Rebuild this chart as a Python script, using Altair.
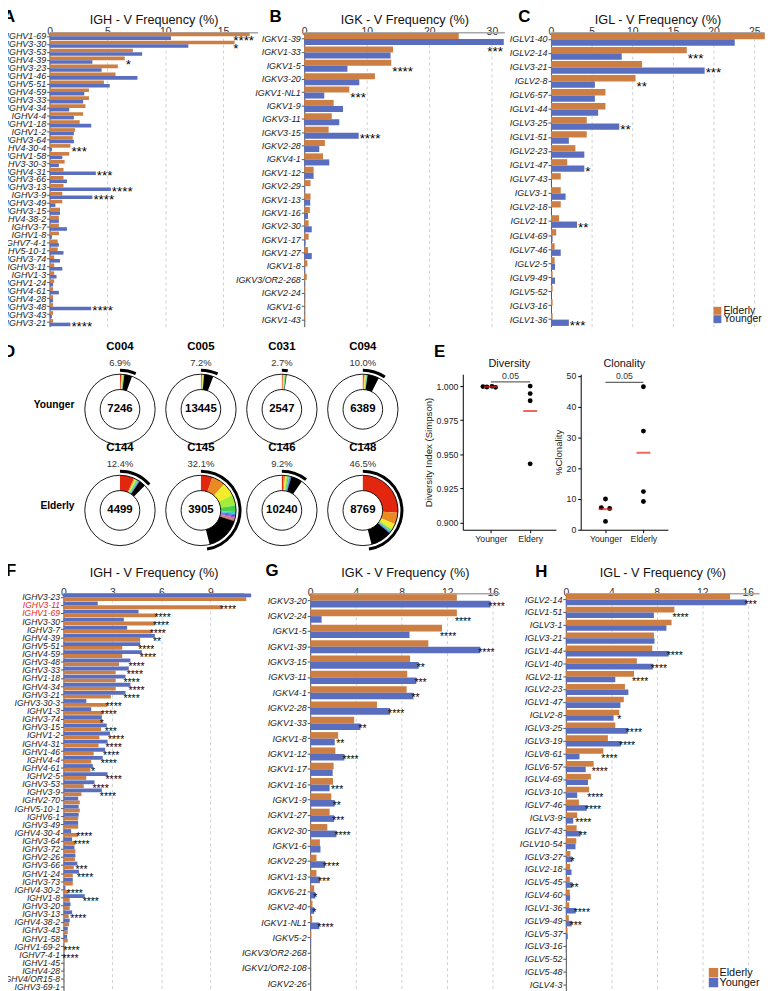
import json
import math
import pandas as pd
import altair as alt

FONT = "Liberation Sans"
ORANGE = "#CD7E42"
BLUE = "#5A6EBF"
RED = "#E8251B"
GROUPS = ["Elderly", "Younger"]

# ---------------- Panel A: IGH (elderly vs younger) ----------------
A_genes = ["IGHV1-69", "IGHV3-30", "IGHV3-53", "IGHV4-39", "IGHV3-23", "IGHV1-46", "IGHV5-51",
           "IGHV4-59", "IGHV3-33", "IGHV4-34", "IGHV4-4", "IGHV1-18", "IGHV1-2", "IGHV3-64",
           "IGHV4-30-4", "IGHV1-58", "IGHV3-30-3", "IGHV4-31", "IGHV3-66", "IGHV3-13", "IGHV3-9",
           "IGHV3-49", "IGHV3-15", "IGHV4-38-2", "IGHV3-7", "IGHV1-8", "IGHV7-4-1", "IGHV5-10-1",
           "IGHV3-74", "IGHV3-11", "IGHV1-3", "IGHV1-24", "IGHV4-61", "IGHV4-28", "IGHV3-48",
           "IGHV3-43", "IGHV3-21"]
A_eld = [17.3, 16.0, 7.2, 6.5, 5.9, 5.7, 4.7, 3.4, 3.4, 3.1, 2.9, 2.6, 2.2, 2.0, 1.8, 1.7, 1.3, 1.2,
         1.2, 1.2, 1.1, 1.1, 0.9, 0.8, 0.8, 0.8, 0.7, 0.7, 0.4, 0.4, 0.4, 0.4, 0.3, 0.3, 0.3, 0.3, 0.3]
A_you = [10.5, 12.0, 8.0, 3.7, 4.5, 7.6, 5.2, 3.0, 2.9, 1.7, 2.1, 3.6, 2.1, 2.1, 0.2, 1.1, 0.8, 4.0,
         1.5, 5.3, 3.7, 0.5, 0.9, 0.8, 1.5, 0.2, 0.8, 1.2, 0.9, 1.1, 0.6, 0.3, 0.8, 0.3, 3.6, 0.2, 1.8]
A_sig = ["****", "*", "", "*", "", "", "", "", "", "", "", "", "", "", "***", "", "", "***", "",
         "****", "****", "", "", "", "", "", "", "", "", "", "", "", "", "", "****", "", "****"]

# ---------------- Panel B: IGK ----------------
B_genes = ["IGKV1-39", "IGKV1-33", "IGKV1-5", "IGKV3-20", "IGKV1-NL1", "IGKV1-9", "IGKV3-11",
           "IGKV3-15", "IGKV2-28", "IGKV4-1", "IGKV1-12", "IGKV2-29", "IGKV1-13", "IGKV1-16",
           "IGKV2-30", "IGKV1-17", "IGKV1-27", "IGKV1-8", "IGKV3/OR2-268", "IGKV2-24", "IGKV1-6",
           "IGKV1-43"]
B_eld = [24.7, 14.2, 13.9, 11.3, 7.2, 4.7, 4.4, 3.9, 3.3, 3.0, 1.5, 1.0, 1.0, 0.9, 0.7, 0.7, 0.6,
         0.5, 0.4, 0.1, 0.1, 0.1]
B_you = [31.9, 13.8, 6.9, 8.8, 3.2, 6.2, 5.6, 8.7, 2.4, 4.0, 1.5, 0.1, 0.95, 0.6, 1.2, 0.2, 1.2,
         0.1, 0.0, 0.0, 0.0, 0.0]
B_sig = ["***", "", "****", "", "***", "", "", "****", "", "", "", "", "", "", "", "", "", "", "",
         "", "", ""]

# ---------------- Panel C: IGL ----------------
C_genes = ["IGLV1-40", "IGLV2-14", "IGLV3-21", "IGLV2-8", "IGLV6-57", "IGLV1-44", "IGLV3-25",
           "IGLV1-51", "IGLV2-23", "IGLV1-47", "IGLV7-43", "IGLV3-1", "IGLV2-18", "IGLV2-11",
           "IGLV4-69", "IGLV7-46", "IGLV2-5", "IGLV9-49", "IGLV5-52", "IGLV3-16", "IGLV1-36"]
C_eld = [26.3, 16.7, 11.2, 10.4, 6.7, 6.7, 4.4, 4.4, 3.0, 2.0, 1.2, 1.2, 1.2, 1.0, 0.65, 0.45, 0.45,
         0.2, 0.2, 0.2, 0.2]
C_you = [22.6, 8.7, 18.9, 5.4, 5.4, 5.8, 8.4, 2.2, 4.1, 4.1, 0.0, 1.8, 0.0, 3.2, 0.2, 1.2, 0.5, 0.5,
         0.0, 0.0, 2.2]
C_sig = ["", "***", "***", "**", "", "", "**", "", "", "*", "", "", "", "**", "", "", "", "", "", "",
         "***"]

# ---------------- Panel D: clonal donuts ----------------
D_samples = ["C004", "C005", "C031", "C094", "C144", "C145", "C146", "C148"]
D_count = [7246, 13445, 2547, 6389, 4499, 3905, 10240, 8769]
D_pct = ["6.9%", "7.2%", "2.7%", "10.0%", "12.4%", "32.1%", "9.2%", "46.5%"]
D_col = [0, 1, 2, 3, 0, 1, 2, 3]
D_row = [0, 0, 0, 0, 1, 1, 1, 1]
D_row_labels = ["Younger", "Elderly"]
D_clones = {  # % of the circle taken by each coloured expanded clone
    "C004": [0.5, 0.4, 0.3, 0.3, 0.3, 0.2],
    "C005": [0.4, 0.3, 0.3, 0.3, 0.2],
    "C031": [0.4, 0.4, 0.3, 0.3, 0.3, 0.2],
    "C094": [0.5, 0.4, 0.4, 0.3, 0.3, 0.3],
    "C144": [6.5, 0.6, 0.5, 0.5, 0.4, 0.4, 0.3, 0.3],
    "C145": [5.3, 6.2, 6.3, 5.0, 2.9, 0.8, 0.7, 0.6, 0.5, 0.5, 0.4, 0.4, 0.4],
    "C146": [0.8, 0.7, 0.6, 0.6, 0.5, 0.4, 0.4, 0.4],
    "C148": [26.0, 5.4, 2.6, 0.6, 0.5, 0.4, 0.4, 0.3],
}
D_other = [3.6, 4.2, 0.3, 5.3, 3.0, 16.0, 5.2, 9.8]   # black slice
D_arc = [6.6, 7.0, 2.4, 9.5, 13.5, 47.5, 10.6, 47.5]   # outer black arc
CLONE_COLORS = ["#E3260E", "#EA8A22", "#F4EC2A", "#A3EC3A", "#45D14C", "#3CCFCB", "#3C8BE6",
                "#5747D6", "#A63ED6", "#E451A8", "#99653A", "#8E8E8E"]

# ---------------- Panel E: diversity / clonality ----------------
E_div_young = [0.9996, 0.9993, 0.9998, 0.9991]
E_div_eld = [1.0, 0.9945, 0.9893, 0.9431]
E_div_jitter = [-0.2, -0.1, 0.03, 0.12]
E_clon_young = [10.0, 7.2, 6.9, 2.7]
E_clon_eld = [46.5, 32.1, 12.4, 9.2]
E_clon_jitter = [0.0, -0.11, 0.11, 0.0]
E_p = "0.05"

# ---------------- Panel F: IGH ----------------
F_genes = ["IGHV3-23", "IGHV3-11", "IGHV1-69", "IGHV3-30", "IGHV3-7", "IGHV4-39", "IGHV5-51",
           "IGHV4-59", "IGHV3-48", "IGHV3-33", "IGHV1-18", "IGHV4-34", "IGHV3-21", "IGHV3-30-3",
           "IGHV1-3", "IGHV3-74", "IGHV3-15", "IGHV1-2", "IGHV4-31", "IGHV1-46", "IGHV4-4",
           "IGHV4-61", "IGHV2-5", "IGHV3-53", "IGHV3-9", "IGHV2-70", "IGHV5-10-1", "IGHV6-1",
           "IGHV3-49", "IGHV4-30-4", "IGHV3-64", "IGHV3-72", "IGHV2-26", "IGHV3-66", "IGHV1-24",
           "IGHV3-73", "IGHV4-30-2", "IGHV1-8", "IGHV3-20", "IGHV3-13", "IGHV4-38-2", "IGHV3-43",
           "IGHV1-58", "IGHV1-69-2", "IGHV7-4-1", "IGHV1-45", "IGHV4-28", "IGHV4/OR15-8",
           "IGHV3-69-1"]
F_you = [11.5, 2.1, 4.6, 3.7, 3.9, 5.6, 4.7, 4.8, 4.1, 4.0, 3.8, 4.1, 3.8, 1.4, 1.7, 2.35, 2.65,
         2.85, 2.7, 2.55, 2.4, 1.8, 2.7, 1.9, 2.35, 0.9, 0.93, 0.93, 0.9, 0.47, 0.53, 0.67, 0.73,
         0.85, 0.95, 0.57, 0.12, 1.3, 0.43, 0.53, 0.38, 0.26, 0.22, 0.02, 0.0, 0.0, 0.02, 0.0, 0.0]
F_eld = [11.2, 9.7, 5.7, 5.6, 5.4, 4.7, 3.6, 3.6, 3.4, 3.2, 3.2, 3.2, 2.9, 2.7, 2.4, 2.35, 2.3, 2.2,
         2.15, 1.85, 1.7, 1.65, 1.4, 1.24, 1.1, 1.0, 1.0, 0.9, 0.9, 0.9, 0.73, 0.73, 0.7, 0.63,
         0.57, 0.57, 0.32, 0.38, 0.38, 0.32, 0.34, 0.26, 0.26, 0.12, 0.05, 0.02, 0.0, 0.0, 0.0]
F_sig = ["", "****", "****", "****", "****", "**", "****", "****", "****", "****", "****", "****",
         "****", "****", "****", "*", "***", "****", "****", "****", "****", "*", "****", "****",
         "****", "", "", "", "", "****", "****", "", "", "***", "****", "", "****", "****", "",
         "****", "", "", "", "****", "****", "", "", "", ""]
F_red = ["IGHV3-11", "IGHV1-69"]

# ---------------- Panel G: IGK ----------------
G_genes = ["IGKV3-20", "IGKV2-24", "IGKV1-5", "IGKV1-39", "IGKV3-15", "IGKV3-11", "IGKV4-1",
           "IGKV2-28", "IGKV1-33", "IGKV1-8", "IGKV1-12", "IGKV1-17", "IGKV1-16", "IGKV1-9",
           "IGKV1-27", "IGKV2-30", "IGKV1-6", "IGKV2-29", "IGKV1-13", "IGKV6-21", "IGKV2-40",
           "IGKV1-NL1", "IGKV5-2", "IGKV3/OR2-268", "IGKV1/OR2-108", "IGKV2-26"]
G_eld = [12.85, 12.85, 11.55, 10.35, 8.75, 8.5, 8.45, 5.85, 3.85, 2.45, 2.2, 2.05, 2.0, 1.85, 1.7,
         1.5, 0.85, 0.55, 0.55, 0.35, 0.2, 0.17, 0.08, 0.0, 0.0, 0.0]
G_you = [15.8, 1.0, 8.7, 14.9, 9.5, 9.3, 9.05, 7.0, 4.4, 2.15, 3.0, 1.97, 1.7, 2.15, 2.1, 2.3, 0.9,
         1.3, 0.85, 0.45, 0.35, 0.8, 0.05, 0.0, 0.0, 0.0]
G_sig = ["****", "****", "****", "****", "**", "***", "**", "****", "**", "**", "****", "", "***",
         "**", "***", "****", "", "****", "***", "*", "*", "****", "", "", "", ""]

# ---------------- Panel H: IGL ----------------
H_genes = ["IGLV2-14", "IGLV1-51", "IGLV3-1", "IGLV3-21", "IGLV1-44", "IGLV1-40", "IGLV2-11",
           "IGLV2-23", "IGLV1-47", "IGLV2-8", "IGLV3-25", "IGLV3-19", "IGLV8-61", "IGLV6-57",
           "IGLV4-69", "IGLV3-10", "IGLV7-46", "IGLV3-9", "IGLV7-43", "IGLV10-54", "IGLV3-27",
           "IGLV2-18", "IGLV5-45", "IGLV4-60", "IGLV1-36", "IGLV9-49", "IGLV5-37", "IGLV3-16",
           "IGLV5-52", "IGLV5-48", "IGLV4-3"]
H_eld = [14.45, 9.55, 9.3, 7.75, 7.6, 6.25, 6.0, 5.2, 5.1, 4.7, 4.35, 3.7, 3.3, 2.45, 2.2, 2.05,
         1.15, 1.0, 0.95, 0.92, 0.4, 0.38, 0.35, 0.35, 0.3, 0.26, 0.15, 0.0, 0.0, 0.0, 0.0]
H_you = [15.9, 7.75, 8.85, 7.8, 9.05, 7.65, 4.35, 5.5, 4.8, 4.2, 5.45, 4.85, 1.2, 1.75, 1.95, 1.0,
         1.85, 0.65, 1.3, 0.85, 0.58, 0.5, 0.58, 0.38, 0.87, 0.52, 0.17, 0.03, 0.0, 0.0, 0.0]
H_sig = ["***", "****", "", "", "****", "****", "****", "", "", "*", "****", "****", "****",
         "****", "", "****", "****", "****", "**", "", "*", "", "**", "", "****", "***", "", "",
         "", "", ""]

NO_FRAME = alt.ViewBackground(strokeOpacity=0, strokeWidth=0)


# ================= helpers =================
def letter_layer(letter, x, y):
    return alt.Chart(pd.DataFrame({"t": [letter]})).mark_text(
        font=FONT, fontSize=17, fontWeight="bold", align="left", baseline="middle", color="black"
    ).encode(x=alt.value(x), y=alt.value(y), text="t:N")


def spacer(w):
    return alt.Chart(pd.DataFrame({"t": [""]})).mark_text().encode(text="t:N").properties(
        width=w, height=1, view=NO_FRAME)


def legend_layers(x0, y0, fs, sq, step):
    out = []
    for i, (g, c) in enumerate(zip(GROUPS, [ORANGE, BLUE])):
        df = pd.DataFrame({"t": [g]})
        out.append(alt.Chart(df).mark_square(size=sq, color=c, opacity=1).encode(
            x=alt.value(x0), y=alt.value(y0 + i * step)))
        out.append(alt.Chart(df).mark_text(
            align="left", baseline="middle", fontSize=fs, font=FONT, color="#111"
        ).encode(x=alt.value(x0 + 6), y=alt.value(y0 + i * step), text="t:N"))
    return out


def bar_panel(genes, eld, you, sig, title, width, height, xmax, ticks, top_group, pad,
              star_fs, star_dx, star_dy, cap, letter, lx, ly, legend=None, red=None,
              title_pad=0, label_pad=-4.5, label_fs=9):
    order = [top_group] + [g for g in GROUPS if g != top_group]
    lower = order[1]
    bars_df = pd.DataFrame({
        "gene": [g for g in genes for _ in (0, 1)],
        "group": ["Elderly", "Younger"] * len(genes),
        "value": [v for pair in zip(eld, you) for v in pair],
    })
    star_rows = []
    for i, (g, e, y, s) in enumerate(zip(genes, eld, you, sig)):
        if not s:
            continue
        xp = max(e, y)
        if cap is not None:
            xp = min(xp, cap)
        lower_val = e if lower == "Elderly" else y
        if lower_val > xp and i + 1 < len(genes):
            # no room beside the lower bar: the marker sits just below, in the next row
            star_rows.append({"gene": genes[i + 1], "group": order[0], "sig": s, "xpos": xp})
        else:
            star_rows.append({"gene": g, "group": lower, "sig": s, "xpos": xp})
    stars_df = pd.DataFrame(star_rows)

    if red:
        lab_color = {"expr": "indexof(%s, datum.value) >= 0 ? '%s' : '#1a1a1a'"
                             % (json.dumps(red), RED)}
    else:
        lab_color = "#1a1a1a"
    y_axis = alt.Axis(title=None, labelFont=FONT, labelFontStyle="italic", labelFontSize=label_fs,
                      labelColor=lab_color, labelPadding=1, tickSize=3, tickColor="#555",
                      domainColor="#555", grid=False, labelLimit=300)
    x_axis = alt.Axis(orient="top", values=ticks, title=title, titleFont=FONT, titleFontSize=12.8,
                      titleFontWeight="normal", titleColor="#111", titlePadding=title_pad,
                      labelFont=FONT, labelFontSize=10.5, labelColor="#333",
                      labelPadding=label_pad, labelFlush=False, ticks=False, tickSize=0,
                      domainColor="#a8a8a8", domainWidth=1.5, grid=True, gridDash=[3, 3],
                      gridColor="#c4c4c4", gridWidth=0.8)
    x_scale = alt.Scale(domain=[0, xmax], nice=False, zero=True)
    y_scale = alt.Scale(domain=genes, paddingInner=pad, paddingOuter=pad / 2)
    off_scale = alt.Scale(domain=order, paddingInner=0, paddingOuter=0)

    bars = alt.Chart(bars_df).mark_bar().encode(
        x=alt.X("value:Q", scale=x_scale, axis=x_axis),
        y=alt.Y("gene:N", scale=y_scale, axis=y_axis),
        yOffset=alt.YOffset("group:N", scale=off_scale),
        color=alt.Color("group:N", scale=alt.Scale(domain=GROUPS, range=[ORANGE, BLUE]),
                        legend=None),
    )
    stars = alt.Chart(stars_df).mark_text(
        align="left", baseline="middle", dx=star_dx, dy=star_dy, fontSize=star_fs, font=FONT,
        color="black"
    ).encode(
        x=alt.X("xpos:Q", scale=x_scale, axis=x_axis),
        y=alt.Y("gene:N", scale=y_scale, axis=y_axis),
        yOffset=alt.YOffset("group:N", scale=off_scale),
        text="sig:N",
    )
    layers = [bars, stars, letter_layer(letter, lx, ly)]
    if legend:
        layers += legend_layers(*legend)
    return alt.layer(*layers).properties(width=width, height=height, view=NO_FRAME)


def donut_panel(width, height, first_cx, first_cy):
    col_px, row_px = 81.7, 102.0
    xs = alt.Scale(domain=[-first_cx / col_px, (width - first_cx) / col_px], nice=False, zero=False)
    ys = alt.Scale(domain=[-first_cy / row_px, (height - first_cy) / row_px], nice=False,
                   zero=False, reverse=True)
    ts = alt.Scale(domain=[0, 100], range=[0, 2 * math.pi])
    X = alt.X("col:Q", scale=xs, axis=None)
    Y = alt.Y("row:Q", scale=ys, axis=None)

    srows, arows = [], []
    for i, s in enumerate(D_samples):
        start = 0.0
        for k, v in enumerate(D_clones[s]):
            srows.append({"col": D_col[i], "row": D_row[i], "t0": start, "t1": start + v,
                          "c": CLONE_COLORS[k % len(CLONE_COLORS)]})
            start += v
        srows.append({"col": D_col[i], "row": D_row[i], "t0": start, "t1": start + D_other[i],
                      "c": "#000000"})
        arows.append({"col": D_col[i], "row": D_row[i], "a0": 0.0, "a1": D_arc[i]})
    slices = pd.DataFrame(srows)
    arcs = pd.DataFrame(arows)
    info = pd.DataFrame({"col": D_col, "row": D_row, "s": D_samples,
                         "n": [str(v) for v in D_count], "p": D_pct})
    rlab = pd.DataFrame({"row": [0, 1], "t": D_row_labels})

    seg = alt.Chart(slices).mark_arc(radius=35.5, radius2=20).encode(
        x=X, y=Y, theta=alt.Theta("t0:Q", scale=ts, stack=None), theta2="t1:Q",
        color=alt.Color("c:N", scale=None))
    ring = alt.Chart(info).mark_arc(
        radius=35.5, radius2=20, theta=0, theta2=2 * math.pi, fillOpacity=0,
        stroke="black", strokeWidth=0.9).encode(x=X, y=Y)
    outer = alt.Chart(arcs).mark_arc(radius=41, radius2=38, color="black").encode(
        x=X, y=Y, theta=alt.Theta("a0:Q", scale=ts, stack=None), theta2="a1:Q")
    nums = alt.Chart(info).mark_text(font=FONT, fontSize=11.5, fontWeight="bold",
                                     color="black").encode(x=X, y=Y, text="n:N")
    heads = alt.Chart(info).mark_text(font=FONT, fontSize=11.5, fontWeight="bold", dy=-63,
                                      color="black").encode(x=X, y=Y, text="s:N")
    pcts = alt.Chart(info).mark_text(font=FONT, fontSize=9.5, dy=-47, color="#333").encode(
        x=X, y=Y, text="p:N")
    rows = alt.Chart(rlab).mark_text(font=FONT, fontSize=10.3, fontWeight="bold", align="right",
                                     dy=-4, color="black").encode(
        x=alt.value(first_cx - 46), y=Y, text="t:N")
    return alt.layer(seg, ring, outer, nums, heads, pcts, rows,
                     letter_layer("D", 7, -22),
                     letter_layer("E", width - 4, -22)).properties(
        width=width, height=height, view=NO_FRAME)


def dot_panel(young, eld, jitter, ydom, ticks, fmt, ytitle, title, xlabels, xdom, width, height,
              bracket_y):
    pts = pd.DataFrame({"x": list(jitter) + [1.0] * len(eld), "v": list(young) + list(eld)})
    grp = pd.DataFrame({"x": [0.0] * len(young) + [1.0] * len(eld), "v": list(young) + list(eld)})
    means = grp.groupby("x", as_index=False)["v"].mean()
    br = pd.DataFrame({"x0": [0.0], "x1": [1.0], "xm": [0.5], "y": [bracket_y], "t": [E_p]})

    xs = alt.Scale(domain=xdom, nice=False, zero=False)
    ys = alt.Scale(domain=ydom, nice=False, zero=False)
    x_axis = alt.Axis(values=[0, 1], title=None, grid=False,
                      labelExpr="datum.value == 0 ? '%s' : '%s'" % xlabels,
                      labelFont=FONT, labelFontSize=8.8, labelColor="#222", labelPadding=2,
                      domainColor="black", tickColor="black", tickSize=3)
    y_axis = alt.Axis(values=ticks, format=fmt, title=ytitle, grid=False, labelFont=FONT,
                      labelFontSize=8.8, labelColor="#222", titleFont=FONT, titleFontSize=9.7,
                      titleFontWeight="normal", titleColor="#222", titlePadding=3,
                      domainColor="black", tickColor="black", tickSize=3)
    X = alt.X("x:Q", scale=xs, axis=x_axis)
    Y = alt.Y("v:Q", scale=ys, axis=y_axis)
    dots = alt.Chart(pts).mark_circle(size=24, color="black", opacity=1).encode(x=X, y=Y)
    mean_ticks = alt.Chart(means).mark_tick(orient="horizontal", size=14, thickness=2,
                                            color=RED).encode(x=X, y=Y)
    rule = alt.Chart(br).mark_rule(color="#666", strokeWidth=1.2).encode(
        x=alt.X("x0:Q", scale=xs, axis=x_axis), x2="x1:Q", y=alt.Y("y:Q", scale=ys, axis=y_axis))
    ptxt = alt.Chart(br).mark_text(font=FONT, fontSize=8.8, baseline="bottom", dy=-1,
                                   color="#333").encode(
        x=alt.X("xm:Q", scale=xs, axis=x_axis), y=alt.Y("y:Q", scale=ys, axis=y_axis), text="t:N")
    return alt.layer(dots, mean_ticks, rule, ptxt).properties(
        width=width, height=height, view=NO_FRAME,
        title=alt.Title(title, font=FONT, fontSize=11, fontWeight="normal", color="#111",
                        offset=3))


# ================= panels =================
A = bar_panel(A_genes, A_eld, A_you, A_sig, "IGH - V Frequency (%)", 210, 297, 18.0,
              [0, 5, 10, 15], "Elderly", 0.1, 13.5, 1, 3, 15.8, "A", -47, -15)
B = bar_panel(B_genes, B_eld, B_you, B_sig, "IGK - V Frequency (%)", 202, 297, 32.0,
              [0, 10, 20, 30], "Elderly", 0.1, 13.5, 1, 3, 29.1, "B", -35, -15)
C = bar_panel(C_genes, C_eld, C_you, C_sig, "IGL - V Frequency (%)", 215, 297, 26.2,
              [0, 5, 10, 15, 20, 25], "Elderly", 0.1, 13.5, 1, 3, None, "C", -33, -15,
              legend=(168, 281, 10.5, 64, 8.5))

D = donut_panel(446, 184, 125.0, 35.5)
DIV = dot_panel(E_div_young, E_div_eld, E_div_jitter, [0.8949, 1.0087],
                [0.9, 0.925, 0.95, 0.975, 1.0], ".3f", "Diversity Index (Simpson)", "Diversity",
                ("Younger", "Eldery"), [-0.713, 1.655], 94, 157, 1.0031)
CLON = dot_panel(E_clon_young, E_clon_eld, E_clon_jitter, [0, 50.6], [0, 10, 20, 30, 40, 50],
                 "d", "%Clonality", "Clonality", ("Younger", "Elderly"), [-0.653, 1.645], 88, 157,
                 47.95)

F = bar_panel(F_genes, F_eld, F_you, F_sig, "IGH - V Frequency (%)", 182, 402, 11.05,
              [0, 3, 6, 9], "Younger", 0.06, 10.5, -2, 2.5, None, "F", -58, -22, red=F_red,
              title_pad=8.5, label_pad=-4.5, label_fs=8.6)
G = bar_panel(G_genes, G_eld, G_you, G_sig, "IGK - V Frequency (%)", 191, 402, 16.58,
              [0, 4, 8, 12, 16], "Elderly", 0.14, 10.5, -2, 2.5, None, "G", -45, -22,
              title_pad=8.5, label_pad=-4.5)
H = bar_panel(H_genes, H_eld, H_you, H_sig, "IGL - V Frequency (%)", 195, 402, 17.0,
              [0, 4, 8, 12, 16], "Elderly", 0.13, 10.5, -2, 2.5, None, "H", -31, -21,
              legend=(149, 383, 11, 90, 10), title_pad=8.5, label_pad=-4.5)

row1 = alt.hconcat(spacer(7), A, B, C, spacing=47, bounds="flush").resolve_scale(
    yOffset="independent", color="independent")
row2 = alt.hconcat(D, DIV, CLON, spacing=25, bounds="flush").resolve_scale(
    color="independent", theta="independent")
row3 = alt.hconcat(spacer(1), F, G, H, spacing=67, bounds="flush").resolve_scale(
    yOffset="independent", color="independent")

chart = alt.concat(
    row1, row2, row3, columns=1, spacing=6,
    padding={"left": -12, "top": -4, "right": 0, "bottom": 0},
).resolve_scale(yOffset="independent", color="independent", theta="independent")
chart = chart.configure_view(stroke=None, strokeWidth=0).configure(font=FONT)

chart.save("out.html", embed_options={"renderer": "svg", "actions": False})
